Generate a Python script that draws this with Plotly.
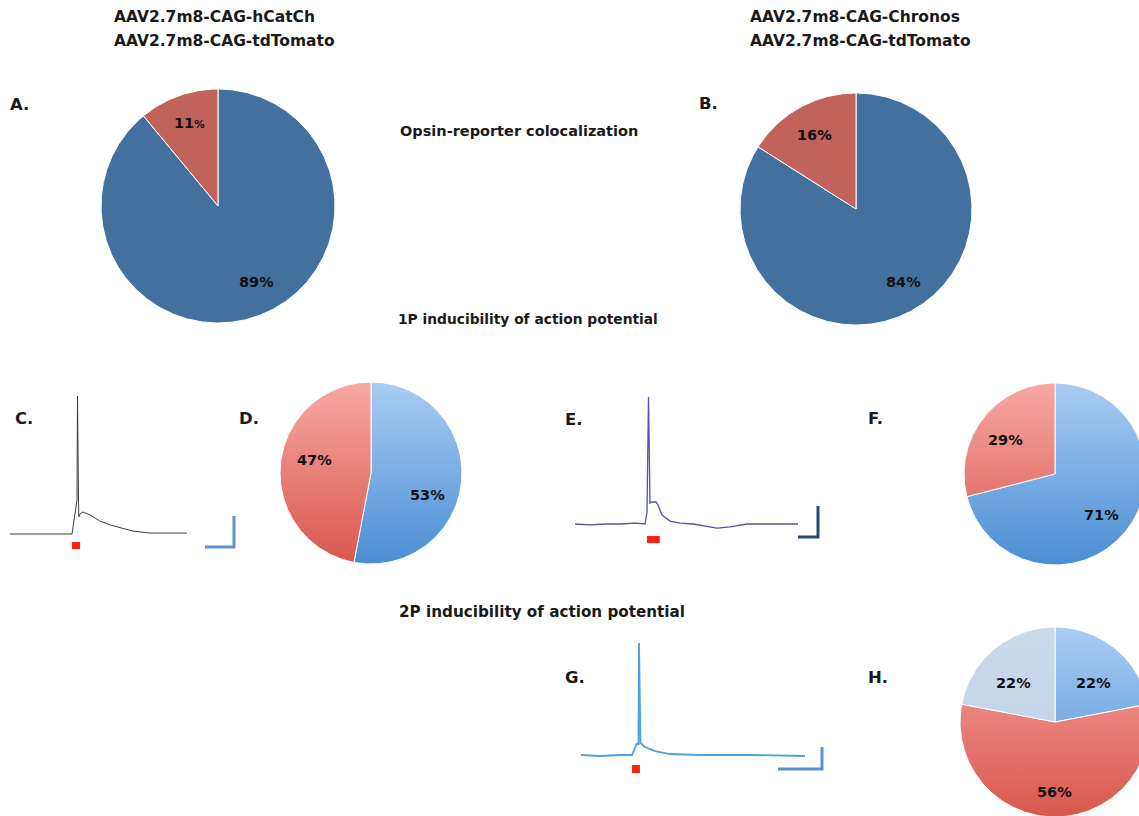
import numpy as np
import plotly.graph_objects as go

W, H = 1139, 816

# ---------------------------------------------------------------- text
vector_left = ["AAV2.7m8-CAG-hCatCh", "AAV2.7m8-CAG-tdTomato"]
vector_right = ["AAV2.7m8-CAG-Chronos", "AAV2.7m8-CAG-tdTomato"]
section_titles = ["Opsin-reporter colocalization",
                  "1P inducibility of action potential",
                  "2P inducibility of action potential"]
panel_letters = ["A.", "B.", "C.", "D.", "E.", "F.", "G.", "H."]

# ---------------------------------------------------------------- pie data (%), clockwise from 12 o'clock
pie_a = [89, 11]        # opsin+/reporter+ , reporter only  (hCatCh)
pie_b = [84, 16]        # (Chronos)
pie_d = [53, 47]        # 1P responders / non-responders (hCatCh)
pie_f = [71, 29]        # 1P responders / non-responders (Chronos)
pie_h = [22, 56, 22]    # 2P: spiking / no response / subthreshold

# ---------------------------------------------------------------- recordings
# time in ms from light onset, membrane potential in mV
trace_c_t = [-107, 0, 8.6, 9.5, 10.7, 11.6, 13.8, 19, 31, 48, 66, 83, 105, 134, 198]
trace_c_v = [-70, -70, -48.1, 19.0, -28.7, -59.0, -57.1, -55.8, -57.7, -61.6,
             -64.2, -66.1, -68.1, -69.4, -69.4]

trace_e_t = [-175, -137.5, -100, -62.5, -25, 0, 5, 8.75, 11.25, 12.5, 17.5, 27.5,
             32.5, 42.5, 62.5, 87.5, 120, 150, 180, 212.5, 255, 312.5, 382.5]
trace_e_v = [-70, -70.6, -70, -70, -69.4, -70, -62.3, 11.9, -35.2, -56.5, -55.8,
             -55.8, -57.7, -64.2, -68.1, -69.4, -70, -71.3, -72.6, -71.9, -70, -70, -70]

trace_g_t = [-115.9, -72.7, -27.3, 0, 11.4, 14.8, 15.9, 18.2, 19.3, 29.5, 52.3,
             86.4, 154.5, 268.2, 393.2]
trace_g_v = [-70, -70.9, -70, -70, -59.1, -60.9, 31.8, -20, -59.1, -62.7, -66.4,
             -69.1, -70, -70, -70.9]

stim_c = [0, 14]      # light pulse, ms
stim_e = [5, 37]
stim_g = [0, 18]

scalebar_c = [50, 20]   # ms, mV
scalebar_e = [50, 20]
scalebar_g = [100, 20]

V_REST = -70

# ---------------------------------------------------------------- colours
DARK_BLUE = "#4271a0"
DARK_RED = "#c1625b"
BLUE_GRAD = [[0, "#a9cdf4"], [1, "#4b8dd3"]]
RED_GRAD = [[0, "#f7a8a3"], [1, "#d9574e"]]
PALE_GRAD = [[0, "#cbdaeb"], [1, "#bed0e6"]]
STIM_RED = "#ff2010"
FONT = "DejaVu Sans"

fig = go.Figure()


def wedge(cx, cy, r, a0, a1):
    """Polygon of a pie wedge; angles in degrees clockwise from 12 o'clock."""
    n = max(3, int(abs(a1 - a0) * 1.5) + 1)
    ang = np.radians(np.linspace(a0, a1, n))
    xs = np.concatenate([[cx], cx + r * np.sin(ang), [cx]])
    ys = np.concatenate([[cy], cy - r * np.cos(ang), [cy]])
    return xs, ys


def add_pie(values, cx, cy, r, fills, label_offsets, label_text=None):
    total = float(sum(values))
    a0 = 0.0
    for i, v in enumerate(values):
        a1 = a0 + 360.0 * v / total
        xs, ys = wedge(cx, cy, r, a0, a1)
        fill = fills[i]
        kw = dict(x=xs, y=ys, mode="lines", fill="toself",
                  line=dict(color="white", width=1), hoverinfo="skip",
                  showlegend=False, xaxis="x", yaxis="y")
        if isinstance(fill, str):
            kw["fillcolor"] = fill
        else:
            kw["fillgradient"] = dict(type="vertical", colorscale=fill,
                                      start=cy - r, stop=cy + r)
        fig.add_trace(go.Scatter(**kw))
        dx, dy = label_offsets[i]
        txt = label_text[i] if label_text else f"{v}%"
        fig.add_annotation(x=cx + dx, y=cy + dy, xref="x", yref="y", text=txt,
                           showarrow=False, xanchor="center", yanchor="middle",
                           font=dict(family=FONT, size=14.5, color="#111111", weight="bold"))
        a0 = a1


# opsin-reporter colocalisation
add_pie(pie_a, 218, 206, 117, [DARK_BLUE, DARK_RED], [(38, 76), (-29, -83)],
        label_text=[f"{pie_a[0]}%", f"{pie_a[1]}<span style='font-size:10.5px'>%</span>"])
add_pie(pie_b, 856, 209, 116, [DARK_BLUE, DARK_RED], [(47, 73), (-42, -74)])
# 1P
add_pie(pie_d, 371, 473, 91, [BLUE_GRAD, RED_GRAD], [(56, 22), (-57, -13)])
add_pie(pie_f, 1055, 474, 91, [BLUE_GRAD, RED_GRAD], [(46, 41), (-50, -34)])
# 2P
add_pie(pie_h, 1055, 722, 95, [BLUE_GRAD, RED_GRAD, PALE_GRAD],
        [(38, -39), (-1, 70), (-42, -39)])

# ---------------------------------------------------------------- electrophysiology panels
panels = [
    dict(ax=2, t=trace_c_t, v=trace_c_v, color="#3c3c3c", width=1.0,
         box=(0, 250, 380, 560), tpp=1.724, vpp=0.645, origin=(72, 534),
         stim=stim_c, stim_band=(542, 549), bar=scalebar_c, corner=(234, 547),
         bar_color="#5d90cc"),
    dict(ax=3, t=trace_e_t, v=trace_e_v, color="#5252aa", width=1.3,
         box=(560, 840, 380, 560), tpp=2.5, vpp=0.645, origin=(645, 524),
         stim=stim_e, stim_band=(536, 543), bar=scalebar_e, corner=(818, 537),
         bar_color="#27497a"),
    dict(ax=4, t=trace_g_t, v=trace_g_v, color="#4aa3dc", width=1.8,
         box=(560, 840, 630, 790), tpp=2.273, vpp=0.909, origin=(632, 755),
         stim=stim_g, stim_band=(765, 773), bar=scalebar_g, corner=(822, 769),
         bar_color="#5b8fd2"),
]

layout_axes = {}
for p in panels:
    n = p["ax"]
    x0, x1, y0, y1 = p["box"]
    ox, oy = p["origin"]
    tpp, vpp = p["tpp"], p["vpp"]

    def px_to_t(px):
        return (px - ox) * tpp

    def py_to_v(py):
        return V_REST + (oy - py) * vpp

    layout_axes[f"xaxis{n}"] = dict(domain=[x0 / W, x1 / W], range=[px_to_t(x0), px_to_t(x1)],
                                   visible=False, anchor=f"y{n}", fixedrange=True)
    layout_axes[f"yaxis{n}"] = dict(domain=[1 - y1 / H, 1 - y0 / H], range=[py_to_v(y1), py_to_v(y0)],
                                   visible=False, anchor=f"x{n}", fixedrange=True)

    fig.add_trace(go.Scatter(x=p["t"], y=p["v"], mode="lines",
                             line=dict(color=p["color"], width=p["width"]),
                             xaxis=f"x{n}", yaxis=f"y{n}", hoverinfo="skip", showlegend=False))

    # light stimulus
    fig.add_shape(type="rect", xref=f"x{n}", yref=f"y{n}",
                  x0=p["stim"][0], x1=p["stim"][1],
                  y0=py_to_v(p["stim_band"][1]), y1=py_to_v(p["stim_band"][0]),
                  fillcolor=STIM_RED, line=dict(width=0))

    # L-shaped scale bar
    ct, cv = px_to_t(p["corner"][0]), py_to_v(p["corner"][1])
    fig.add_trace(go.Scatter(x=[ct - p["bar"][0], ct, ct], y=[cv, cv, cv + p["bar"][1]],
                             mode="lines", line=dict(color=p["bar_color"], width=3),
                             xaxis=f"x{n}", yaxis=f"y{n}", hoverinfo="skip", showlegend=False))


# ---------------------------------------------------------------- text annotations (pixel space)
def label(x, y, text, size, anchor="left"):
    fig.add_annotation(x=x, y=y, xref="x", yref="y", text=text, showarrow=False,
                       xanchor=anchor, yanchor="middle",
                       font=dict(family=FONT, size=size, color="#1a1a1a", weight="bold"))


label(112, 17, vector_left[0], 15.5)
label(112, 41, vector_left[1], 15.5)
label(748, 17, vector_right[0], 15.5)
label(748, 41, vector_right[1], 15.5)

label(398, 131, section_titles[0], 14.5)
label(396, 319, section_titles[1], 13.8)
label(397, 612, section_titles[2], 15.2)

letter_pos = [(8, 104), (697, 103), (13, 418), (237, 418), (563, 419), (866, 418),
              (563, 677), (866, 677)]
for t, (x, y) in zip(panel_letters, letter_pos):
    label(x, y, t, 16.5)

fig.update_layout(
    width=W, height=H,
    margin=dict(l=0, r=0, t=0, b=0),
    paper_bgcolor="white", plot_bgcolor="rgba(0,0,0,0)",
    xaxis=dict(domain=[0, 1], range=[0, W], visible=False, fixedrange=True),
    yaxis=dict(domain=[0, 1], range=[H, 0], visible=False, fixedrange=True),
    showlegend=False,
    **layout_axes,
)

fig.write_html("out.html", config={"displayModeBar": False})
